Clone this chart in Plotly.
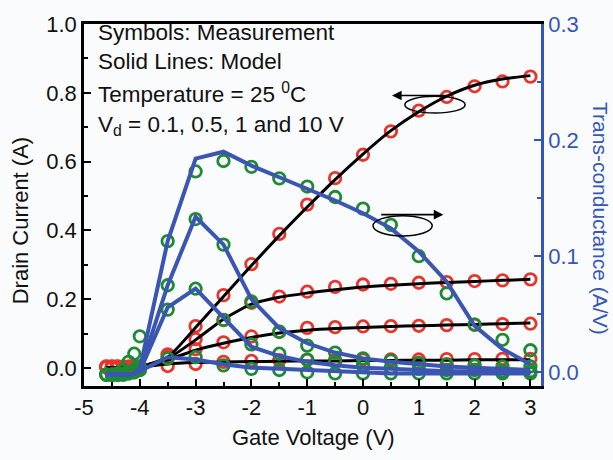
import plotly.graph_objects as go

# ---------------- data ----------------
x_gate = [-4.6, -4.5, -4.4, -4.3, -4.2, -4.1, -4.0, -3.5, -3.0, -2.5, -2.0,
          -1.5, -1.0, -0.5, 0.0, 0.5, 1.0, 1.5, 2.0, 2.5, 3.0]

# measured drain current (A) for Vd = 10, 1, 0.5, 0.1 V
id_meas_10 = [0.005, 0.005, 0.005, 0.004, 0.004, 0.004, 0.004, 0.040, 0.122, 0.212, 0.302,
              0.390, 0.475, 0.552, 0.620, 0.688, 0.748, 0.788, 0.819, 0.833, 0.847]
id_meas_1 = [0.004, 0.004, 0.004, 0.004, 0.004, 0.004, 0.004, 0.037, 0.084, 0.140, 0.190,
             0.208, 0.222, 0.236, 0.243, 0.245, 0.248, 0.250, 0.253, 0.255, 0.258]
id_meas_05 = [0.003, 0.003, 0.003, 0.003, 0.003, 0.003, 0.003, 0.030, 0.055, 0.075, 0.092,
              0.105, 0.117, 0.119, 0.121, 0.122, 0.123, 0.125, 0.126, 0.128, 0.129]
id_meas_01 = [0.003, 0.003, 0.003, 0.003, 0.003, 0.003, 0.003, 0.006, 0.012, 0.018, 0.021,
              0.023, 0.024, 0.024, 0.025, 0.025, 0.025, 0.026, 0.026, 0.027, 0.027]

# model drain current (A)
id_mod_10 = [0.0, 0.0, 0.0, 0.0, 0.001, 0.002, 0.004, 0.032, 0.118, 0.208, 0.298,
             0.385, 0.468, 0.548, 0.622, 0.690, 0.745, 0.790, 0.822, 0.840, 0.850]
id_mod_1 = [0.0, 0.0, 0.0, 0.0, 0.001, 0.002, 0.004, 0.028, 0.082, 0.142, 0.186,
            0.206, 0.218, 0.228, 0.236, 0.241, 0.245, 0.249, 0.252, 0.255, 0.258]
id_mod_05 = [0.0, 0.0, 0.0, 0.0, 0.001, 0.002, 0.004, 0.024, 0.052, 0.072, 0.089,
             0.102, 0.110, 0.115, 0.118, 0.121, 0.123, 0.125, 0.127, 0.129, 0.131]
id_mod_01 = [0.0, 0.0, 0.0, 0.0, 0.001, 0.002, 0.003, 0.012, 0.016, 0.018, 0.019,
             0.020, 0.021, 0.021, 0.022, 0.022, 0.023, 0.023, 0.024, 0.024, 0.024]

# measured trans-conductance (A/V)
gm_meas_10 = [-0.002, -0.002, -0.001, 0.002, 0.009, 0.016, 0.031, 0.113, 0.173, 0.182, 0.177,
              0.167, 0.160, 0.151, 0.141, 0.127, 0.100, 0.068, 0.041, 0.028, 0.019]
gm_meas_1 = [-0.002, -0.002, -0.002, -0.001, 0.000, 0.002, 0.005, 0.075, 0.132, 0.110, 0.061,
             0.035, 0.023, 0.017, 0.012, 0.010, 0.008, 0.007, 0.006, 0.005, 0.005]
gm_meas_05 = [-0.002, -0.002, -0.002, -0.002, -0.001, 0.000, 0.002, 0.054, 0.072, 0.045, 0.024,
              0.016, 0.011, 0.009, 0.006, 0.004, 0.003, 0.002, 0.002, 0.001, 0.001]
gm_meas_01 = [-0.002, -0.002, -0.002, -0.002, -0.001, 0.000, 0.002, 0.012, 0.013, 0.006, 0.003,
              0.002, 0.000, -0.001, -0.001, -0.001, -0.001, -0.001, -0.001, -0.001, -0.001]

# model trans-conductance (A/V)
gm_mod_10 = [-0.002, -0.002, -0.002, -0.002, -0.002, -0.001, 0.003, 0.113, 0.184, 0.190, 0.178,
             0.168, 0.158, 0.148, 0.137, 0.124, 0.104, 0.078, 0.040, 0.020, 0.007]
gm_mod_1 = [-0.002, -0.002, -0.002, -0.002, -0.002, -0.001, 0.001, 0.075, 0.134, 0.110, 0.063,
            0.038, 0.025, 0.017, 0.012, 0.009, 0.007, 0.005, 0.004, 0.003, 0.002]
gm_mod_05 = [-0.002, -0.002, -0.002, -0.002, -0.002, -0.001, 0.001, 0.056, 0.072, 0.047, 0.022,
             0.014, 0.009, 0.006, 0.004, 0.003, 0.002, 0.001, 0.001, 0.000, 0.000]
gm_mod_01 = [-0.002, -0.002, -0.002, -0.002, -0.002, -0.001, 0.001, 0.013, 0.011, 0.007, 0.004,
             0.003, 0.002, 0.001, 0.000, -0.001, -0.001, -0.001, -0.001, -0.001, -0.001]

# ---------------- styles ----------------
RED = "#e8352c"
GREEN = "#1e8a34"
BLUE = "#3b56b2"
AXBLUE = "#3456b8"
FONT = "Liberation Sans, Arial, sans-serif"

fig = go.Figure()

id_meas = [id_meas_10, id_meas_1, id_meas_05, id_meas_01]
id_mod = [id_mod_10, id_mod_1, id_mod_05, id_mod_01]
gm_meas = [gm_meas_10, gm_meas_1, gm_meas_05, gm_meas_01]
gm_mod = [gm_mod_10, gm_mod_1, gm_mod_05, gm_mod_01]

for ys in id_meas:
    fig.add_trace(go.Scatter(x=x_gate, y=ys, mode="markers",
                             marker=dict(symbol="circle-open", size=11.5, color=RED,
                                         line=dict(width=2.8, color=RED)),
                             showlegend=False))
for ys in id_mod:
    fig.add_trace(go.Scatter(x=x_gate, y=ys, mode="lines",
                             line=dict(color="black", width=3, shape="spline", smoothing=0.6),
                             showlegend=False))
for ys in gm_meas:
    fig.add_trace(go.Scatter(x=x_gate, y=ys, mode="markers", yaxis="y2",
                             marker=dict(symbol="circle-open", size=11.5, color=GREEN,
                                         line=dict(width=2.8, color=GREEN)),
                             showlegend=False))
for ys in gm_mod:
    fig.add_trace(go.Scatter(x=x_gate, y=ys, mode="lines", yaxis="y2",
                             line=dict(color=BLUE, width=4),
                             showlegend=False))

# ellipses and arrows
fig.add_shape(type="circle", xref="x", yref="y", x0=0.75, x1=1.83, y0=0.741, y1=0.790,
              line=dict(color="black", width=1.5))
fig.add_shape(type="circle", xref="x", yref="y", x0=0.18, x1=1.24, y0=0.384, y1=0.443,
              line=dict(color="black", width=1.5))
fig.add_annotation(x=0.52, y=0.792, ax=1.53, ay=0.792, xref="x", yref="y",
                   axref="x", ayref="y", showarrow=True, arrowhead=2, arrowsize=1.2,
                   arrowwidth=1.6, arrowcolor="black", text="")
fig.add_annotation(x=1.44, y=0.446, ax=0.30, ay=0.446, xref="x", yref="y",
                   axref="x", ayref="y", showarrow=True, arrowhead=2, arrowsize=1.2,
                   arrowwidth=1.6, arrowcolor="black", text="")

# text block (two multi-line blocks)
fig.add_annotation(x=0.026, y=0.936, xref="paper", yref="paper",
                   text="Symbols: Measurement<br>Solid Lines: Model", showarrow=False,
                   xanchor="left", yanchor="middle", align="left",
                   font=dict(family=FONT, size=22.5, color="#111111"))
fig.add_annotation(x=0.026, y=0.765, xref="paper", yref="paper",
                   text="Temperature = 25 <sup>0</sup>C<br>V<sub>d</sub> = 0.1, 0.5, 1 and 10 V",
                   showarrow=False, xanchor="left", yanchor="middle", align="left",
                   font=dict(family=FONT, size=22.5, color="#111111"))

# axis titles
fig.add_annotation(x=-0.14, y=0.455, xref="paper", yref="paper", text="Drain Current (A)",
                   showarrow=False, textangle=-90, xanchor="center", yanchor="middle",
                   font=dict(family=FONT, size=22, color="#111111"))
fig.add_annotation(x=1.13, y=0.463, xref="paper", yref="paper", text="Trans-conductance (A/V)",
                   showarrow=False, textangle=90, xanchor="center", yanchor="middle",
                   font=dict(family=FONT, size=21, color=AXBLUE))
fig.add_annotation(x=0.503, y=-0.143, xref="paper", yref="paper", text="Gate Voltage (V)",
                   showarrow=False, xanchor="center", yanchor="middle",
                   font=dict(family=FONT, size=22, color="#111111"))

BG = "#fafbfd"
fig.update_layout(
    width=613, height=460,
    margin=dict(l=84, r=72, t=16, b=74),
    paper_bgcolor=BG, plot_bgcolor=BG,
    showlegend=False,
    font=dict(family=FONT, size=22, color="#111111"),
    xaxis=dict(range=[-5, 3.19], tickvals=[-5, -4, -3, -2, -1, 0, 1, 2, 3],
               ticktext=["-5", "-4", "-3", "-2", "-1", "0", "1", "2", "3"],
               ticks="inside", ticklen=7, tickwidth=2, tickcolor="black",
               minor=dict(dtick=0.5, ticks="inside", ticklen=4, tickwidth=2, tickcolor="black"),
               showline=True, linecolor="black", linewidth=2.5, mirror=True,
               showgrid=False, zeroline=False, tickfont=dict(size=22, color="#111111")),
    yaxis=dict(range=[-0.052, 1.0], tickvals=[0.0, 0.2, 0.4, 0.6, 0.8, 1.0],
               ticktext=["0.0", "0.2", "0.4", "0.6", "0.8", "1.0"],
               ticks="inside", ticklen=7, tickwidth=2, tickcolor="black",
               minor=dict(dtick=0.1, ticks="inside", ticklen=4, tickwidth=2, tickcolor="black"),
               showline=True, linecolor="black", linewidth=2.5, mirror=False,
               showgrid=False, zeroline=False, tickfont=dict(size=22, color="#111111")),
    yaxis2=dict(range=[-0.0118, 0.3], overlaying="y", side="right",
                tickvals=[0.0, 0.1, 0.2, 0.3], ticktext=["0.0", "0.1", "0.2", "0.3"],
                ticks="inside", ticklen=7, tickwidth=2, tickcolor=AXBLUE,
                minor=dict(dtick=0.05, ticks="inside", ticklen=4, tickwidth=2, tickcolor=AXBLUE),
                showline=True, linecolor=AXBLUE, linewidth=2.5,
                showgrid=False, zeroline=False, tickfont=dict(size=22, color=AXBLUE)),
)

fig.write_html("out.html")
